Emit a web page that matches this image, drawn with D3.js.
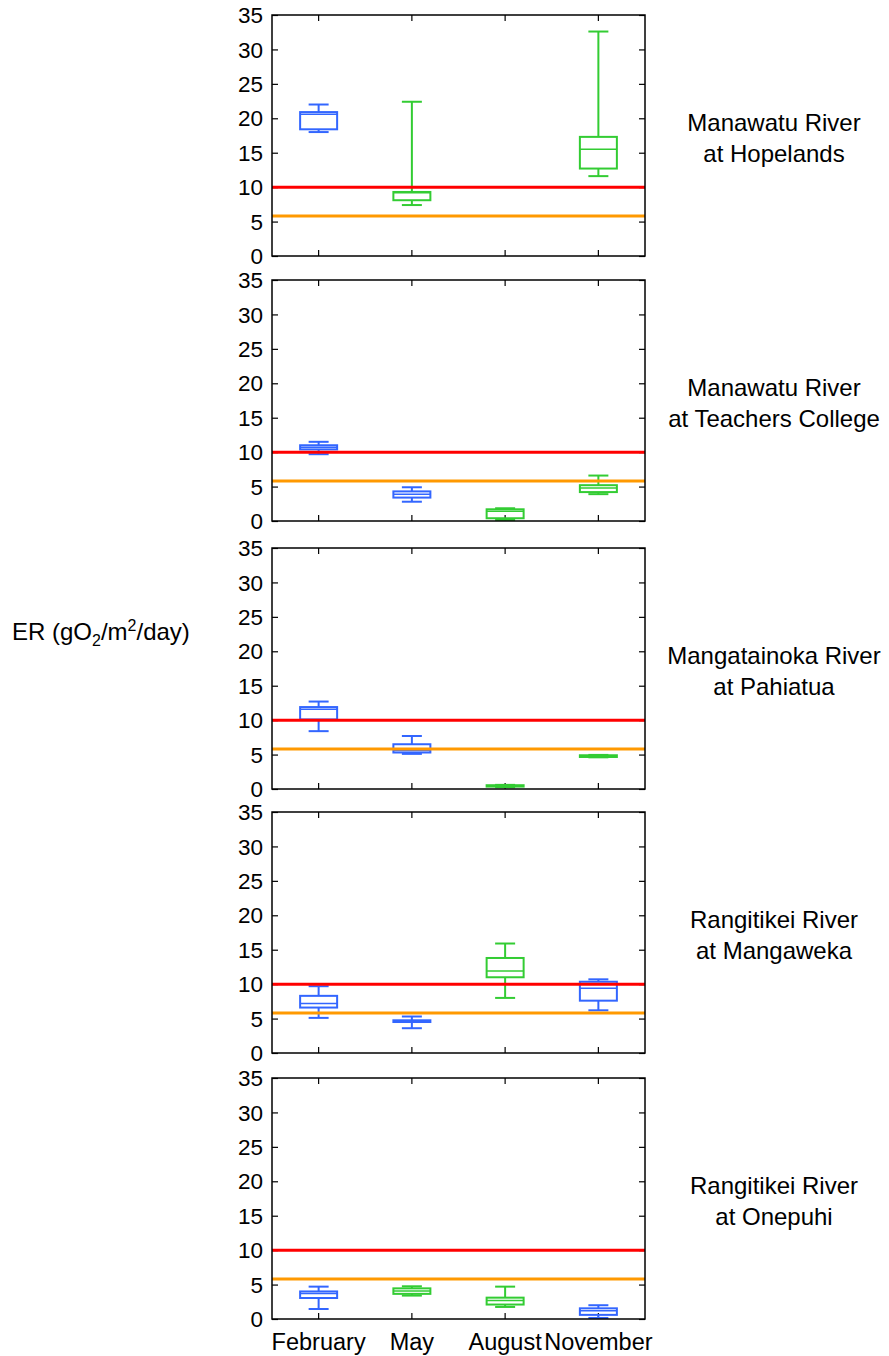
<!DOCTYPE html>
<html lang="en">
<head>
<meta charset="UTF-8">
<title>ER box plots</title>
<script src="https://cdn.jsdelivr.net/npm/d3@7"></script>
<style>
  body { margin: 0; background: #fff; }
  text { font-family: "Liberation Sans", Arial, sans-serif; fill: #000; }
</style>
</head>
<body>
<script>
// months on the x axis
var months = ["February", "May", "August", "November"];

// site names (two lines each)
var sites = [
  ["Manawatu River", "at Hopelands"],
  ["Manawatu River", "at Teachers College"],
  ["Mangatainoka River", "at Pahiatua"],
  ["Rangitikei River", "at Mangaweka"],
  ["Rangitikei River", "at Onepuhi"]
];

// [min, q1, median, q3, max] per month, null = no data
var hopelands        = [[18.0, 18.4, 20.6, 20.9, 22.0], [7.4, 8.1, 9.2, 9.3, 22.4], null, [11.6, 12.7, 15.5, 17.3, 32.6]];
var teachersCollege  = [[9.7, 10.4, 10.7, 11.0, 11.5], [2.8, 3.4, 3.9, 4.3, 4.9], [0.15, 0.4, 1.4, 1.7, 1.85], [3.9, 4.2, 4.8, 5.2, 6.6]];
var pahiatua         = [[8.4, 10.1, 11.6, 11.9, 12.7], [5.1, 5.3, 5.6, 6.5, 7.7], [0.25, 0.35, 0.45, 0.55, 0.6], [4.6, 4.65, 4.8, 4.9, 4.95]];
var mangaweka        = [[5.1, 6.6, 7.2, 8.3, 9.7], [3.6, 4.5, 4.6, 4.75, 5.3], [8.0, 11.0, 11.9, 13.8, 15.9], [6.2, 7.6, 9.4, 10.35, 10.7]];
var onepuhi          = [[1.45, 3.05, 3.7, 4.0, 4.7], [3.4, 3.65, 4.05, 4.45, 4.75], [1.75, 2.1, 2.7, 3.1, 4.7], [0.15, 0.6, 1.2, 1.55, 2.0]];
var siteValues = [hopelands, teachersCollege, pahiatua, mangaweka, onepuhi];

// box colour per site and month: b = blue, g = green
var siteColours = [
  ["b", "g", "g", "g"],
  ["b", "b", "g", "g"],
  ["b", "b", "g", "g"],
  ["b", "b", "g", "b"],
  ["b", "g", "g", "b"]
];

// guideline values
var redLine = 10;
var orangeLine = 5.8;
var yTicks = [0, 5, 10, 15, 20, 25, 30, 35];

var W = 889, H = 1356;
var left = 272, right = 645;
var panelH = 241;
var panelTops = [15, 280, 548, 812, 1078];
var colourMap = { b: "#3366ff", g: "#33cc33" };

var svg = d3.select("body").append("svg")
  .attr("width", W)
  .attr("height", H);

var x = d3.scaleBand().domain(months).range([left, right]);
var y = d3.scaleLinear().domain([0, 35]).range([panelH, 0]);

var boxW = 37, capW = 20;

siteValues.forEach(function(vals, p) {
  var top = panelTops[p];
  var g = svg.append("g").attr("transform", "translate(0," + top + ")");

  // y axes (left with labels, right mirrored), ticks inward
  g.append("g")
    .attr("transform", "translate(" + left + ",0)")
    .call(d3.axisRight(y).tickValues(yTicks).tickSize(6).tickFormat(""))
    .call(function(a) { a.select(".domain").remove(); });
  g.append("g")
    .attr("transform", "translate(" + right + ",0)")
    .call(d3.axisLeft(y).tickValues(yTicks).tickSize(6).tickFormat(""))
    .call(function(a) { a.select(".domain").remove(); });
  g.selectAll("text.ytl")
    .data(yTicks)
    .enter()
    .append("text")
    .attr("class", "ytl")
    .attr("x", left - 9)
    .attr("y", function(d) { return y(d); })
    .attr("dy", "0.36em")
    .attr("text-anchor", "end")
    .attr("font-size", "22.5px")
    .text(function(d) { return d; });

  // x ticks inward, bottom and top
  g.append("g")
    .attr("transform", "translate(0," + panelH + ")")
    .call(d3.axisTop(x).tickSize(6).tickFormat(""))
    .call(function(a) { a.select(".domain").remove(); });
  g.append("g")
    .call(d3.axisBottom(x).tickSize(6).tickFormat(""))
    .call(function(a) { a.select(".domain").remove(); });
  g.selectAll(".tick line").attr("stroke", "#000").attr("stroke-width", 1.2);

  // boxes
  vals.forEach(function(v, i) {
    if (!v) return;
    var cx = x(months[i]) + x.bandwidth() / 2;
    var col = colourMap[siteColours[p][i]];
    var bg = g.append("g").attr("stroke", col).attr("stroke-width", 2).attr("fill", "none");
    // whiskers
    bg.append("line").attr("x1", cx).attr("x2", cx).attr("y1", y(v[0])).attr("y2", y(v[1]));
    bg.append("line").attr("x1", cx).attr("x2", cx).attr("y1", y(v[3])).attr("y2", y(v[4]));
    bg.append("line").attr("x1", cx - capW / 2).attr("x2", cx + capW / 2).attr("y1", y(v[0])).attr("y2", y(v[0]));
    bg.append("line").attr("x1", cx - capW / 2).attr("x2", cx + capW / 2).attr("y1", y(v[4])).attr("y2", y(v[4]));
    // box
    bg.append("rect")
      .attr("x", cx - boxW / 2)
      .attr("y", y(v[3]))
      .attr("width", boxW)
      .attr("height", Math.max(0.5, y(v[1]) - y(v[3])));
    // median
    bg.append("line").attr("x1", cx - boxW / 2).attr("x2", cx + boxW / 2).attr("y1", y(v[2])).attr("y2", y(v[2]))
      .attr("stroke-width", 1.5);
  });

  // guideline lines
  g.append("line")
    .attr("x1", left).attr("x2", right)
    .attr("y1", y(redLine)).attr("y2", y(redLine))
    .attr("stroke", "#ff0000").attr("stroke-width", 3);
  g.append("line")
    .attr("x1", left).attr("x2", right)
    .attr("y1", y(orangeLine)).attr("y2", y(orangeLine))
    .attr("stroke", "#ff9900").attr("stroke-width", 3);

  // frame
  g.append("rect")
    .attr("x", left).attr("y", 0)
    .attr("width", right - left).attr("height", panelH)
    .attr("fill", "none").attr("stroke", "#000").attr("stroke-width", 1.5);

  // site label
  var mid = panelH / 2;
  g.selectAll("text.site")
    .data(sites[p])
    .enter()
    .append("text")
    .attr("class", "site")
    .attr("x", 774)
    .attr("y", function(d, k) { return mid - 5 + k * 31; })
    .attr("text-anchor", "middle")
    .attr("font-size", "24px")
    .text(function(d) { return d; });

  // month labels under last panel
  if (p === siteValues.length - 1) {
    g.selectAll("text.month")
      .data(months)
      .enter()
      .append("text")
      .attr("class", "month")
      .attr("x", function(d) { return x(d) + x.bandwidth() / 2; })
      .attr("y", panelH + 31)
      .attr("text-anchor", "middle")
      .attr("font-size", "23.5px")
      .text(function(d) { return d; });
  }
});

// y axis title
var yt = svg.append("text")
  .attr("x", 12)
  .attr("y", 640)
  .attr("font-size", "24px");
yt.append("tspan").text("ER (gO");
yt.append("tspan").attr("font-size", "16px").attr("dy", 6).text("2");
yt.append("tspan").attr("dy", -6).text("/m");
yt.append("tspan").attr("font-size", "16px").attr("dy", -9).text("2");
yt.append("tspan").attr("dy", 9).text("/day)");
</script>
</body>
</html>
